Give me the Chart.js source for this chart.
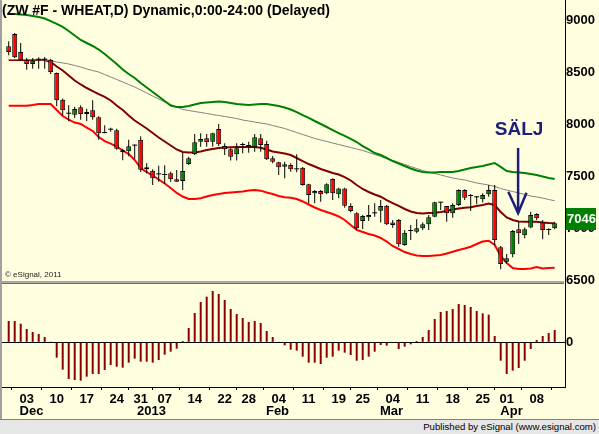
<!DOCTYPE html>
<html><head><meta charset="utf-8">
<script src="https://cdn.jsdelivr.net/npm/chart.js@4.4.1/dist/chart.umd.min.js"></script>
<style>
html,body{margin:0;padding:0;background:#FFFFE0;width:599px;height:434px;overflow:hidden;position:relative}
#c1{position:absolute;left:0;top:0;z-index:2}
#c2{position:absolute;left:0;top:284px;z-index:1}
#sep{position:absolute;left:0;top:281px;width:564px;height:2px;background:#A8A8A8;border-bottom:1px solid #707070;z-index:3}
#gap{position:absolute;left:565px;top:280px;width:1px;height:5px;background:#000;z-index:3}
#lb{position:absolute;left:0;top:0;width:2px;height:419px;background:#A0A0A0;z-index:3}
#foot{position:absolute;left:0;top:419px;width:596px;height:15px;padding-right:3px;background:#E6E6E6;border-top:1px solid #808080;
 font:9.6px 'Liberation Sans',Arial,sans-serif;line-height:14px;text-align:right;color:#000;z-index:3}
</style></head>
<body>
<canvas id="c1" width="599" height="290"></canvas>
<canvas id="c2" width="599" height="134"></canvas>
<div id="sep"></div><div id="gap"></div><div id="lb"></div>
<div id="foot">Published by eSignal (www.esignal.com)</div>
<script>
// ---- data (index = trading day, 0 = 28 Nov 2012 ... 91 = 11 Apr 2013) ----
const open  = [8747,8865,8692,8612,8577,8618,8618,8618,8490,8234,
               8099,8090,8161,8096,8132,8064,7913,7945,7939,7747,
               7737,7792,7849,7584,7551,7516,7510,7526,7468,7452,
               7615,7709,7830,7862,7830,7952,7788,7757,7709,7798,
               7798,7776,7862,7808,7670,7632,7589,7606,7564,7580,
               7420,7333,7356,7333,7471,7324,7381,7211,7141,7067,
               7103,7141,7166,7214,7029,7077,6837,6971,6965,6997,
               7035,7109,7244,7211,7141,7221,7365,7308,7295,7276,
               7324,7365,6814,6676,6747,6987,6930,7006,7135,7054,
               6981,6997];
const high  = [8795,8875,8779,8635,8635,8641,8645,8628,8495,8244,
               8180,8166,8180,8147,8228,8074,7987,7963,7955,7763,
               7849,7802,7882,7622,7564,7599,7603,7541,7558,7724,
               7686,7904,7910,7904,7916,8000,7814,7766,7814,7820,
               7830,7904,7904,7840,7692,7638,7638,7622,7709,7587,
               7426,7365,7365,7430,7478,7388,7388,7237,7151,7125,
               7221,7237,7269,7221,7077,7087,6981,7029,7084,7054,
               7125,7253,7250,7211,7237,7372,7372,7327,7308,7333,
               7413,7413,6827,6750,6981,7061,7006,7157,7141,7077,
               6997,7061];
const low   = [8660,8635,8603,8522,8532,8532,8532,8481,8170,8084,
               8026,8058,8041,8026,8041,7849,7910,7925,7753,7651,
               7689,7666,7538,7526,7413,7445,7423,7445,7445,7365,
               7606,7702,7782,7782,7782,7788,7702,7648,7648,7718,
               7724,7734,7734,7654,7622,7510,7478,7541,7535,7407,
               7237,7237,7253,7324,7269,7285,7195,7151,6981,6990,
               7067,7109,7054,7029,7003,6820,6830,6885,6949,6981,
               6981,7103,7173,7061,7099,7211,7269,7163,7228,7244,
               7301,6837,6603,6660,6718,6846,6901,6997,7077,6891,
               6933,6987];
const close = [8692,8641,8612,8577,8609,8618,8618,8500,8228,8132,
               8099,8144,8096,8115,8064,7910,7913,7945,7763,7728,
               7786,7792,7561,7564,7478,7516,7510,7468,7445,7548,
               7670,7824,7856,7824,7910,7805,7757,7686,7766,7798,
               7776,7872,7798,7660,7638,7584,7612,7564,7564,7413,
               7317,7356,7324,7420,7333,7381,7214,7163,6997,7115,
               7125,7141,7211,7035,7054,6843,6955,6971,6997,7035,
               7103,7247,7244,7141,7221,7365,7292,7308,7295,7317,
               7365,6885,6654,6709,6971,6949,6987,7125,7093,6981,
               6981,7046];
const upperBand = [9058,9058,9053,9048,9038,9029,9014,8990,8962,8933,
               8894,8851,8808,8779,8750,8716,8673,8625,8577,8524,
               8481,8442,8394,8351,8308,8264,8221,8178,8163,8163,
               8173,8187,8202,8207,8212,8216,8212,8202,8192,8187,
               8183,8187,8192,8192,8183,8173,8159,8139,8115,8086,
               8058,8029,8000,7971,7942,7913,7885,7856,7827,7788,
               7755,7721,7702,7673,7644,7620,7596,7572,7553,7538,
               7534,7534,7538,7538,7538,7548,7562,7577,7587,7596,
               7610,7625,7587,7548,7538,7534,7529,7519,7510,7495,
               7481,7471];
const midBand = [8615,8615,8615,8615,8615,8615,8615,8596,8553,8514,
               8466,8418,8380,8346,8317,8288,8260,8226,8178,8135,
               8082,8034,7995,7957,7913,7870,7832,7793,7755,7731,
               7726,7726,7736,7750,7760,7769,7774,7776,7779,7779,
               7782,7779,7772,7755,7736,7726,7716,7702,7673,7644,
               7615,7591,7567,7548,7529,7514,7490,7457,7413,7375,
               7346,7322,7301,7269,7240,7212,7183,7159,7144,7139,
               7144,7147,7154,7163,7178,7187,7195,7199,7212,7221,
               7236,7221,7154,7101,7077,7062,7061,7061,7061,7053,
               7048,7045];
const lowerBand = [8176,8176,8176,8176,8183,8192,8192,8192,8135,8077,
               8043,8014,8000,7966,7933,7875,7836,7812,7783,7745,
               7711,7654,7577,7538,7505,7466,7428,7385,7337,7303,
               7279,7279,7286,7303,7317,7327,7337,7341,7346,7351,
               7361,7365,7359,7341,7327,7308,7295,7291,7279,7255,
               7226,7197,7173,7154,7135,7111,7077,7029,6981,6962,
               6942,6928,6904,6870,6827,6798,6769,6750,6736,6731,
               6731,6736,6740,6755,6772,6788,6803,6820,6846,6870,
               6878,6837,6731,6663,6615,6606,6606,6611,6625,6611,
               6615,6617];
const avgLine = [8620,8620,8620,8620,8618,8616,8615,8611,8596,8587,
               8577,8563,8548,8529,8514,8500,8476,8452,8428,8404,
               8380,8356,8327,8298,8269,8240,8212,8187,8163,8139,
               8130,8120,8111,8101,8091,8082,8072,8062,8053,8038,
               8029,8019,8010,8000,7986,7971,7957,7938,7918,7899,
               7880,7861,7846,7832,7817,7803,7788,7774,7760,7745,
               7726,7707,7688,7668,7649,7630,7611,7591,7572,7553,
               7538,7524,7510,7495,7481,7471,7462,7447,7433,7423,
               7413,7399,7380,7365,7351,7337,7322,7308,7298,7288,
               7274,7262];
const oscillator = [64,64,56,40,31,25,16,2,-46,-82,
               -110,-113,-115,-103,-95,-95,-83,-68,-73,-76,
               -61,-49,-58,-58,-61,-53,-37,-28,-19,4,
               43,88,121,137,154,145,127,100,85,73,
               61,64,58,34,16,2,-9,-22,-25,-43,
               -61,-61,-65,-46,-43,-25,-31,-38,-55,-53,
               -43,-28,-8,-10,-2,-20,-13,-6,4,16,
               37,70,91,94,100,115,112,106,94,87,
               83,19,-55,-95,-85,-77,-55,-20,7,19,
               28,37];
const priceTicks = [6500,7000,7500,8000,8500,9000];
const oscTicks = [0];
const weekIdx = [3,8,13,18,22,26,31,36,40,45,50,55,59,64,69,74,79,83,88];
const weekLabels = ['03','10','17','24','31','07','14','22','28','04','11','19','25','04','11','18','25','01','08'];
const monthIdx = [3,23,44,63,83];
const monthLabels = ['Dec','2013','Feb','Mar','Apr'];
const titleText = '(ZW #F - WHEAT,D) Dynamic,0:00-24:00 (Delayed)';
const copyText = '\u00A9 eSignal, 2011';
const signal = {label:'S\u00C4LJ', x:84.9, labelY:7894, from:7770, to:7144, armL:{x:83.27,y:7349}, armR:{x:86.3,y:7339}};

// ---- rendering ----
const X_MIN = -1.117, X_MAX = 92.717;
const Y_MIN = 6490.4, Y_MAX = 9192.3;
const O_MIN = -134, O_MAX = 175;
const MONTH_SHIFT = 0.8;
const AXF = "'Liberation Sans',Arial,sans-serif";
const NAVY = '#1E1E78';
const pts = arr => arr.map((v,i)=>({x:i,y:v}));
const bodies = open.map((o,i)=>({x:i,y:[o,close[i]]}));
const wicks = low.map((l,i)=>({x:i,y:[l,high[i]]}));
const candleColor = i => close[i]>open[i] ? '#008000' : (close[i]<open[i] ? '#FF0000' : '#000000');

const overlay = {
  id:'overlay',
  afterDraw(chart){
    const {ctx} = chart; const x = chart.scales.x, y = chart.scales.y;
    ctx.save();
    ctx.fillStyle = '#000'; ctx.textAlign='left'; ctx.textBaseline='alphabetic';
    ctx.font = "bold 14px 'Liberation Sans',Arial,sans-serif";
    ctx.fillText(titleText, 2, 15);
    ctx.font = "8px 'Liberation Sans',Arial,sans-serif"; ctx.fillStyle='#222';
    ctx.fillText(copyText, 5, 277);
    const ax = x.getPixelForValue(signal.x);
    ctx.strokeStyle = NAVY; ctx.lineWidth = 2.5; ctx.lineCap='butt'; ctx.lineJoin='miter';
    ctx.beginPath(); ctx.moveTo(ax, y.getPixelForValue(signal.from)); ctx.lineTo(ax, y.getPixelForValue(signal.to)); ctx.stroke();
    ctx.beginPath();
    ctx.moveTo(x.getPixelForValue(signal.armL.x), y.getPixelForValue(signal.armL.y));
    ctx.lineTo(ax, y.getPixelForValue(signal.to));
    ctx.lineTo(x.getPixelForValue(signal.armR.x), y.getPixelForValue(signal.armR.y));
    ctx.stroke();
    ctx.fillStyle = NAVY; ctx.textAlign='center'; ctx.font = "bold 19px 'Liberation Sans',Arial,sans-serif";
    ctx.fillText(signal.label, x.getPixelForValue(signal.x)+1, y.getPixelForValue(signal.labelY));
    const last = close[close.length-1]; const py = y.getPixelForValue(last);
    ctx.fillStyle = '#008000'; ctx.fillRect(566, Math.round(py-15), 30, 22);
    ctx.fillStyle = '#FFFFFF'; ctx.textAlign='left'; ctx.textBaseline='middle';
    ctx.font = "bold 13px " + AXF;
    ctx.fillText(String(last), 567, Math.round(py-4));
    ctx.restore();
  }
};

const common = {responsive:false, animation:false, devicePixelRatio:1, events:[],
  plugins:{legend:{display:false}, tooltip:{enabled:false}}};
const tickFont = {family:AXF, size:13, weight:'bold'};

new Chart(document.getElementById('c1'), {
  type:'bar',
  data:{datasets:[
    {type:'bar', data:bodies, grouped:false, barThickness:5, minBarLength:1, inflateAmount:0, borderSkipped:false,
     backgroundColor: c=>candleColor(c.dataIndex), borderColor:'#000',
     borderWidth: c=> close[c.dataIndex]===open[c.dataIndex] ? 0 : 1, order:0},
    {type:'bar', data:wicks, grouped:false, barThickness:1, inflateAmount:0, backgroundColor:'#000', borderWidth:0, order:1},
    {type:'line', data:pts(upperBand), borderColor:'#008000', borderWidth:2, pointRadius:0, order:3},
    {type:'line', data:pts(avgLine), borderColor:'#808080', borderWidth:1, pointRadius:0, order:3},
    {type:'line', data:pts(midBand), borderColor:'#800000', borderWidth:2, pointRadius:0, order:3},
    {type:'line', data:pts(lowerBand), borderColor:'#FF0000', borderWidth:2, pointRadius:0, order:3}
  ]},
  options:Object.assign({}, common, {
    layout:{padding:{left:2,right:0,top:0,bottom:9}},
    scales:{
      x:{type:'linear', display:false, min:X_MIN, max:X_MAX, offset:false},
      y:{type:'linear', position:'right', min:Y_MIN, max:Y_MAX,
         afterBuildTicks:s=>{s.ticks = priceTicks.map(v=>({value:v}));},
         afterFit:s=>{s.width=34; s.paddingTop=0; s.paddingBottom=0;},
         grid:{display:true, drawOnChartArea:false, drawTicks:false},
         border:{display:true, color:'#000', width:1},
         ticks:{padding:1, color:'#000', font:tickFont, callback:v=>String(v)}}
    }
  }),
  plugins:[overlay]
});

new Chart(document.getElementById('c2'), {
  type:'bar',
  data:{datasets:[{data:pts(oscillator), backgroundColor:'#8B0000', barThickness:2, inflateAmount:0, borderWidth:0}]},
  options:Object.assign({}, common, {
    layout:{padding:{left:2,right:0,top:0,bottom:0}},
    scales:{
      x:{type:'linear', position:'bottom', min:X_MIN, max:X_MAX, offset:false, weight:0,
         afterBuildTicks:s=>{s.ticks = weekIdx.map(v=>({value:v}));},
         afterFit:s=>{s.height=17; s.paddingLeft=0; s.paddingRight=0;},
         grid:{display:true, drawOnChartArea:false, drawTicks:true, tickLength:3, color:'#000'},
         border:{display:true, color:'#000', width:1},
         ticks:{autoSkip:false, maxRotation:0, padding:2, color:'#000', font:tickFont, callback:(v,i)=>weekLabels[i]}},
      x2:{type:'linear', axis:'x', position:'bottom', min:X_MIN, max:X_MAX, offset:false, weight:1,
         afterBuildTicks:s=>{s.ticks = monthIdx.map(v=>({value:v+MONTH_SHIFT}));},
         afterFit:s=>{s.height=14; s.paddingLeft=0; s.paddingRight=0;},
         grid:{display:false, drawTicks:false}, border:{display:false},
         ticks:{autoSkip:false, maxRotation:0, padding:0, color:'#000', font:tickFont, callback:(v,i)=>monthLabels[i]}},
      y:{type:'linear', position:'right', min:O_MIN, max:O_MAX,
         afterBuildTicks:s=>{s.ticks = oscTicks.map(v=>({value:v}));},
         afterFit:s=>{s.width=34; s.paddingTop=0; s.paddingBottom=0;},
         grid:{display:true, drawOnChartArea:true, drawTicks:false, color:'#000', lineWidth:1},
         border:{display:true, color:'#000', width:1},
         ticks:{padding:1, color:'#000', font:tickFont, callback:v=>String(v)}}
    }
  })
});
</script>
</body></html>
